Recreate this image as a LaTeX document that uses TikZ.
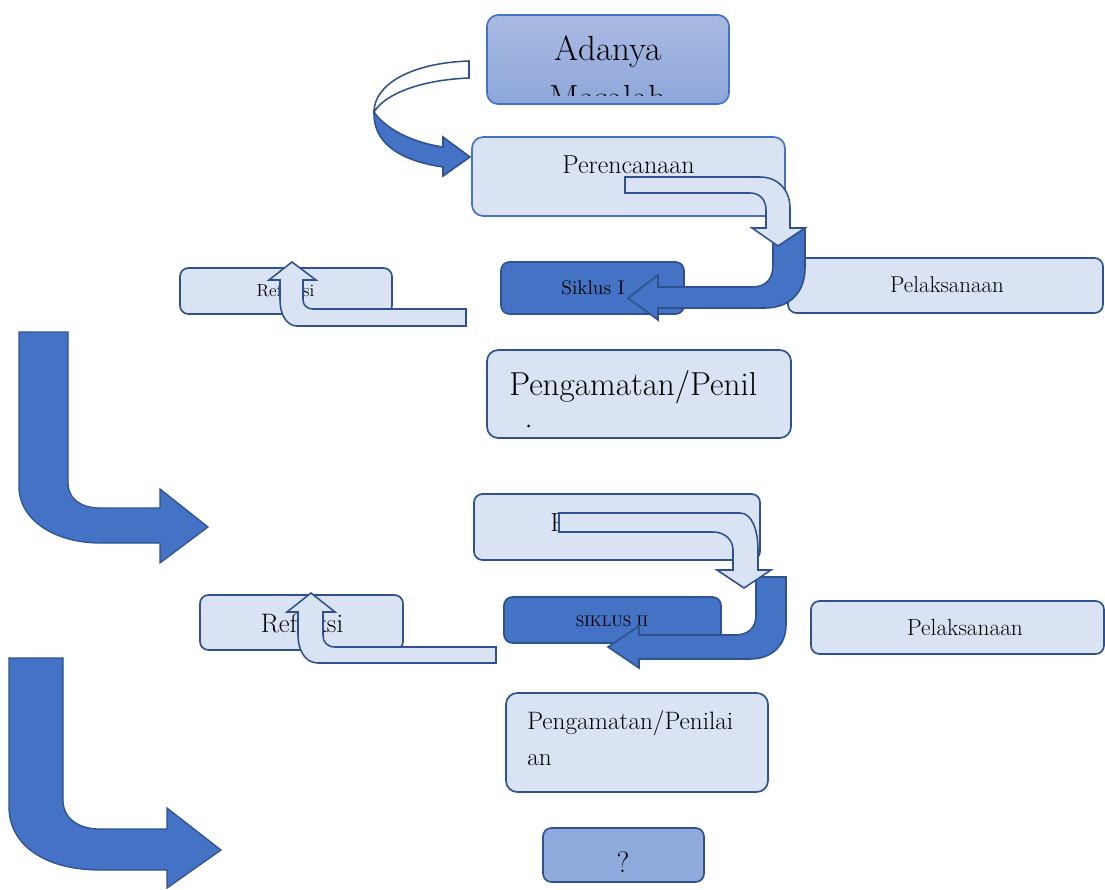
\documentclass[tikz,border=0pt]{standalone}
\usepackage{fontspec}
\definecolor{bleufonce}{HTML}{4472C4}
\definecolor{bordfonce}{HTML}{2F528F}
\definecolor{bleuclair}{HTML}{DAE3F3}
\definecolor{bleumoyen}{HTML}{8FAADC}
\definecolor{degradehaut}{HTML}{AABAE2}
\definecolor{degradebas}{HTML}{8EA6DB}
\newcommand\taille[1]{\fontsize{#1}{#1}\selectfont}

\begin{document}
\begin{tikzpicture}[x=0.025cm,y=-0.025cm,
	boite/.style={draw=bordfonce,line width=1.2pt,fill=bleuclair,rounded corners=6pt,inner sep=0pt},
	texte/.style={inner sep=0pt,anchor=base},
	fleche/.style={draw=bordfonce,line width=1.1pt}]
	% Unite : un pixel de l'image
	\def\u{0.025cm}
	\useasboundingbox (0,0) rectangle (1105,889);
%
% Boites du cycle
	\node[boite,draw=bleufonce,top color=degradehaut,bottom color=degradebas,rounded corners=8pt,minimum width=242*\u,minimum height=89*\u] (masalah) at (608,59.5) {};
	\node[boite,draw=bleufonce,rounded corners=8pt,minimum width=313*\u,minimum height=79*\u] (rencana1) at (628.5,176.5) {};
	\node[boite,fill=bleufonce,minimum width=183*\u,minimum height=52*\u] (siklus1) at (592.5,288) {};
	\node[boite,minimum width=315*\u,minimum height=55*\u] (laksana1) at (945.5,285.5) {};
	\node[boite,minimum width=212*\u,minimum height=46*\u] (refleksi1) at (286,291) {};
	\node[boite,rounded corners=8pt,minimum width=304*\u,minimum height=88*\u] (amat1) at (639,394) {};
	\node[boite,minimum width=286*\u,minimum height=66*\u] (rencana2) at (617,527) {};
	\node[boite,fill=bleufonce,minimum width=217*\u,minimum height=46*\u] (siklus2) at (612.5,620) {};
	\node[boite,minimum width=203*\u,minimum height=55*\u] (refleksi2) at (301.5,622.5) {};
	\node[boite,minimum width=293*\u,minimum height=53*\u] (laksana2) at (957.5,627.5) {};
	\node[boite,rounded corners=8pt,minimum width=262*\u,minimum height=99*\u] (amat2) at (637,742.5) {};
	\node[boite,fill=bleumoyen,minimum width=161*\u,minimum height=54*\u] (tanya) at (623.5,855) {};
%
% Textes
	\node[texte,font=\taille{24.8}] (masalaht) at (608,60) {Adanya};
	\begin{scope}
		\clip (487,15) rectangle (729,95);
		\node[texte,font=\taille{24.8}] (masalaht2) at (608,109) {Masalah};
	\end{scope}
	\node[texte,font=\taille{18.5}] (rencana1t) at (628.5,173) {Perencanaan};
	\node[texte,font=\taille{14}] (siklus1t) at (593,294) {Siklus I};
	\node[texte,font=\taille{16.3}] (laksana1t) at (947,292) {Pelaksanaan};
	\node[texte,font=\taille{12.4}] (refleksi1t) at (285.5,296) {Refleksi};
	\begin{scope}
		\clip (487,350) rectangle (791,430);
		\node[texte,anchor=base west,font=\taille{23.6}] (amat1t) at (509,395) {Pengamatan/Penil};
		\node[texte,anchor=base west,font=\taille{23.6}] (amat1t2) at (509,446) {aian};
	\end{scope}
	\node[texte,anchor=base west,font=\taille{18.5}] (rencana2t) at (550,531) {Perencanaan};
	\node[texte,font=\taille{10.9}] (siklus2t) at (612,626) {SIKLUS II};
	\node[texte,font=\taille{19}] (refleksi2t) at (302,632) {Refleksi};
	\node[texte,font=\taille{16.6}] (laksana2t) at (965,635) {Pelaksanaan};
	\node[texte,anchor=base west,font=\taille{17.9}] (amat2t) at (527,729) {Pengamatan/Penilai};
	\node[texte,anchor=base west,font=\taille{17.9}] (amat2t2) at (527,765) {an};
	\node[texte,font=\taille{21}] (tanyat) at (623,872) {?};
%
% Fleche courbe du haut
	\draw[fleche,fill=white] (469,61) .. controls (410,63) and (374,85) .. (374,112)
		.. controls (385,94) and (420,80) .. (469,78) -- cycle;
	\draw[fleche,fill=bleufonce] (374,112) .. controls (385,128) and (410,142) .. (443,147)
		-- (443,137) -- (470,157) -- (443,176) -- (443,167)
		.. controls (395,160) and (373,140) .. (374,112) -- cycle;
%
% Demi-tours vers le siklus
	\draw[fleche,fill=bleufonce] (773,228) -- (805,228) -- (805,268) .. controls (805,292) and (790,308) .. (765,308)
		-- (658,308) -- (658,320) -- (628,298) -- (658,275) -- (658,287) -- (752,287)
		.. controls (765,287) and (773,280) .. (773,265) -- cycle;
	\draw[fleche,fill=bleuclair] (625,177) -- (760,177) .. controls (778,177) and (790,190) .. (790,208)
		-- (790,228) -- (805,228) -- (778,246) -- (752,228) -- (766,228) -- (766,210)
		.. controls (766,200) and (760,193) .. (750,193) -- (625,193) -- cycle;
	\draw[fleche,fill=bleufonce] (756,577) -- (786,577) -- (786,625) .. controls (786,645) and (772,659) .. (750,659)
		-- (639,659) -- (639,668) -- (608,647) -- (639,626) -- (639,635) -- (735,635)
		.. controls (748,635) and (756,628) .. (756,615) -- cycle;
	\draw[fleche,fill=bleuclair] (559,513) -- (740,513) .. controls (752,513) and (758,530) .. (758,550)
		-- (758,570) -- (771,570) -- (744,588) -- (717,570) -- (733,570) -- (733,550)
		.. controls (733,540) and (725,532) .. (713,532) -- (559,532) -- cycle;
%
% Fleches vers la refleksi
	\draw[fleche,fill=bleuclair] (466,309) -- (466,326) -- (297,326) .. controls (287,326) and (280,315) .. (280,300)
		-- (280,280) -- (269,280) -- (292,262) -- (316,280) -- (303,280) -- (303,300)
		.. controls (303,305) and (307,309) .. (313,309) -- cycle;
	\draw[fleche,fill=bleuclair] (496,647) -- (496,663) -- (318,663) .. controls (305,663) and (298,650) .. (298,635)
		-- (298,612) -- (287,612) -- (311,593) -- (335,612) -- (323,612) -- (323,635)
		.. controls (323,642) and (327,647) .. (335,647) -- cycle;
%
% Grandes fleches a gauche
	\draw[fleche,fill=bleufonce,line width=0.9pt] (19,332) -- (68,332) -- (68,483) .. controls (68,498) and (80,508) .. (100,508)
		-- (160,508) -- (160,489) -- (208,527) -- (160,563) -- (160,543) -- (100,543)
		.. controls (55,543) and (19,520) .. (19,487) -- cycle;
	\draw[fleche,fill=bleufonce,line width=0.9pt] (9,658) -- (63,658) -- (63,800) .. controls (63,818) and (78,829) .. (100,829)
		-- (167,829) -- (167,808) -- (221,850) -- (167,888) -- (167,870) -- (100,870)
		.. controls (45,870) and (9,845) .. (9,807) -- cycle;

\end{tikzpicture}
\end{document}
